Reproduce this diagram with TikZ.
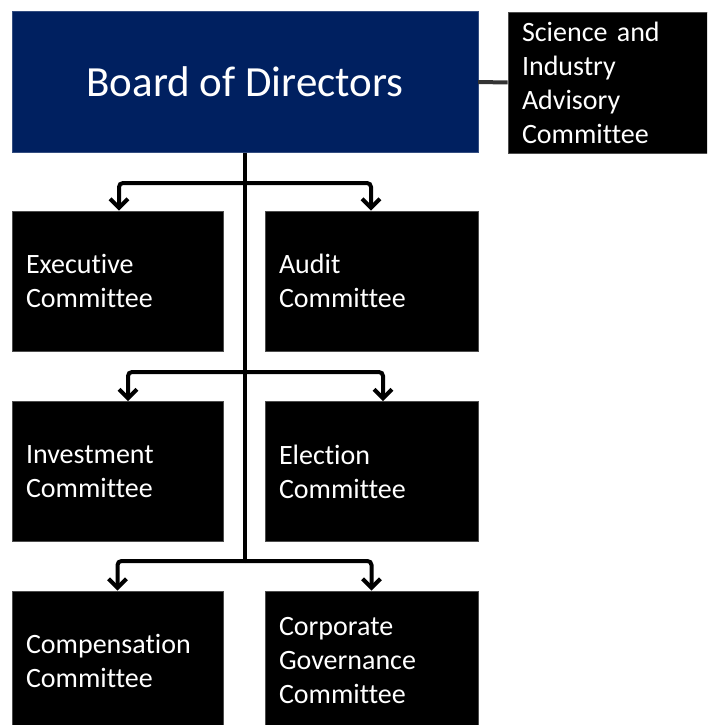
\documentclass[tikz,border=0pt]{standalone}
\usepackage{fontspec}
\setmainfont[RawFeature={-liga;-clig;-calt;-dlig}]{Carlito}
\usetikzlibrary{positioning,arrows.meta,calc}
\definecolor{navy}{RGB}{0,32,96}

\begin{document}
\begin{tikzpicture}[x=1pt,y=-1pt,
  box/.style={draw=black!70, line width=0.8pt, fill=black, text=white, inner xsep=14pt,
    minimum height=140pt, align=left, font=\fontsize{28}{34}\selectfont},
  link/.style={line width=4pt, rounded corners=4pt},
  arr/.style={link, -{Straight Barb[length=9pt,width=18pt]}}]
  \clip (0,0) rectangle (707,725);
  \node[draw=navy!80, fill=navy, text=white, minimum width=466pt, minimum height=141pt,
    font=\fontsize{43}{50}\selectfont] (board) at (245,82) {Board of Directors};
  \node[box, text width=180pt, minimum height=141pt] (sci) at (612,82.5)
    {Science and\\ Industry\\ Advisory\\ Committee};

  \node[box, text width=183pt] (exec)   at (117.5,281) {Executive\\ Committee};
  \node[box, text width=185pt] (audit)  at (371.5,281) {Audit\\ Committee};
  \node[box, text width=183pt] (invest) at (117.5,471.5) {Investment\\ Committee};
  \node[box, text width=185pt] (elect)  at (371.5,471.5) {Election\\ Committee};
  \node[box, text width=183pt] (comp)   at (117.5,661) {Compensation\\ Committee};
  \node[box, text width=185pt] (corp)   at (371.5,661) {Corporate\\ Governance\\ Committee};

  \coordinate (j1) at (245,183);
  \coordinate (j2) at (245,372);
  \coordinate (j3) at (245,561);
  \draw[line width=4pt, black!80] (board.east) -- (sci.west);
  \draw[line width=4.5pt] (board.south) -- (j3);
  \draw[arr] (j1) -| ([xshift=1.5pt]exec.north);
  \draw[arr] (j1) -| ([xshift=-0.5pt]audit.north);
  \draw[arr] (j2) -| ([xshift=10.5pt]invest.north);
  \draw[arr] (j2) -| ([xshift=11.5pt]elect.north);
  \draw[arr] (j3) -| (comp.north);
  \draw[arr] (j3) -| (corp.north);
\end{tikzpicture}
\end{document}
